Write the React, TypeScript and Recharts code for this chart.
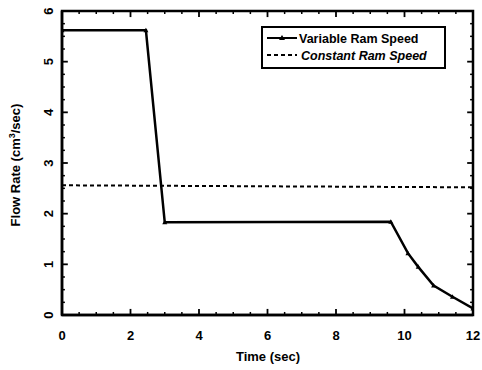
import React from 'react';
import { LineChart, Line, XAxis, YAxis, ReferenceArea, ReferenceLine } from 'recharts';

// values
const VAR_T = [0, 2.45, 3.0, 9.6, 10.1, 10.4, 10.85, 11.4, 12];
const VAR_F = [5.62, 5.62, 1.83, 1.84, 1.22, 0.95, 0.58, 0.36, 0.13];
const CONST_T = [0, 12];
const CONST_F = [2.56, 2.52];

const X_LABELS = [0, 2, 4, 6, 8, 10, 12];
const Y_LABELS = [0, 1, 2, 3, 4, 5, 6];
const X_MINOR = [0.5, 1, 1.5, 2.5, 3, 3.5, 4.5, 5, 5.5, 6.5, 7, 7.5, 8.5, 9, 9.5, 10.5, 11, 11.5];
const Y_MINOR = [0.25, 0.5, 0.75, 1.25, 1.5, 1.75, 2.25, 2.5, 2.75, 3.25, 3.5, 3.75, 4.25, 4.5, 4.75, 5.25, 5.5, 5.75];

const variableData = VAR_T.map((t, i) => ({ t, f: VAR_F[i] }));
const constantData = CONST_T.map((t, i) => ({ t, f: CONST_F[i] }));

const FONT = 'Liberation Sans, Arial, sans-serif';
// inward tick lengths, in axis units (about 6px major / 3px minor)
const XT = 0.17;
const YT = 0.12;

const tickSegments = () => {
  const out: any[] = [];
  const add = (key: string, seg: any, w: number) =>
    out.push(<ReferenceLine key={key} segment={seg} stroke="#000" strokeWidth={w} ifOverflow="visible" />);
  X_LABELS.forEach(v => {
    add(`xb${v}`, [{ x: v, y: 0 }, { x: v, y: YT }], 1.8);
    add(`xt${v}`, [{ x: v, y: 6 }, { x: v, y: 6 - YT }], 1.8);
  });
  X_MINOR.forEach(v => {
    add(`xbm${v}`, [{ x: v, y: 0 }, { x: v, y: YT / 2 }], 1.5);
    add(`xtm${v}`, [{ x: v, y: 6 }, { x: v, y: 6 - YT / 2 }], 1.5);
  });
  Y_LABELS.forEach(v => {
    add(`yl${v}`, [{ x: 0, y: v }, { x: XT, y: v }], 1.8);
    add(`yr${v}`, [{ x: 12, y: v }, { x: 12 - XT, y: v }], 1.8);
  });
  Y_MINOR.forEach(v => {
    add(`ylm${v}`, [{ x: 0, y: v }, { x: XT / 2, y: v }], 1.5);
    add(`yrm${v}`, [{ x: 12, y: v }, { x: 12 - XT / 2, y: v }], 1.5);
  });
  return out;
};

const renderTriangle = (props: any) => {
  const { cx, cy, index } = props;
  return <polygon key={`d-${index}`} points={`${cx},${cy - 2.5} ${cx + 2.5},${cy + 2} ${cx - 2.5},${cy + 2}`} fill="#000" />;
};

export default function App() {
  return (
    <div style={{ position: 'absolute', left: 0, top: 0, width: 482, height: 370 }}>
      <LineChart width={482} height={370} margin={{ top: 11, right: 9, bottom: 0, left: 0 }}>
        <XAxis
          type="number"
          dataKey="t"
          domain={[0, 12]}
          ticks={X_LABELS}
          interval={0}
          tickLine={false}
          tickMargin={10}
          tick={{ fill: '#000', fontFamily: FONT, fontWeight: 'bold', fontSize: 13 }}
          axisLine={{ stroke: '#000', strokeWidth: 2.5 }}
          height={55}
          allowDataOverflow
        />
        <YAxis
          type="number"
          domain={[0, 6]}
          ticks={Y_LABELS}
          interval={0}
          tickLine={false}
          tickMargin={8}
          tick={{ angle: -90, textAnchor: 'middle', verticalAnchor: 'end', fill: '#000', fontFamily: FONT, fontWeight: 'bold', fontSize: 13 }}
          axisLine={{ stroke: '#000', strokeWidth: 2.5 }}
          width={62}
          allowDataOverflow
        />
        <ReferenceArea x1={0} x2={12} y1={0} y2={6} fill="none" fillOpacity={0} stroke="#000" strokeWidth={2.5} ifOverflow="visible" />
        {tickSegments()}
        <Line
          data={constantData}
          dataKey="f"
          type="linear"
          stroke="#000"
          strokeWidth={2}
          strokeDasharray="4 3"
          dot={false}
          isAnimationActive={false}
        />
        <Line
          data={variableData}
          dataKey="f"
          type="linear"
          stroke="#000"
          strokeWidth={2.5}
          dot={renderTriangle}
          isAnimationActive={false}
        />
        {/* legend box */}
        <g>
          <rect x={262} y={27} width={183} height={41} fill="#fff" stroke="#000" strokeWidth={2} />
          <line x1={267} y1={38} x2={297} y2={38} stroke="#000" strokeWidth={2} />
          <polygon points="282,35 285,40 279,40" fill="#000" />
          <text x={299} y={43} fontFamily={FONT} fontWeight="bold" fontSize={12.5} fill="#000">
            Variable Ram Speed
          </text>
          <line x1={267} y1={55} x2={297} y2={55} stroke="#000" strokeWidth={2} strokeDasharray="4 3" />
          <text x={301} y={60} fontFamily={FONT} fontWeight="bold" fontStyle="italic" fontSize={12.5} fill="#000">
            Constant Ram Speed
          </text>
        </g>
        <text x={268} y={361} textAnchor="middle" fontFamily={FONT} fontWeight="bold" fontSize={13} fill="#000">
          Time (sec)
        </text>
        <g transform="translate(20,165) rotate(-90)">
          <text x={0} y={0} textAnchor="middle" fontFamily={FONT} fontWeight="bold" fontSize={13} fill="#000">
            Flow Rate (cm<tspan dy={-5} fontSize={9}>3</tspan><tspan dy={5}>/sec)</tspan>
          </text>
        </g>
      </LineChart>
    </div>
  );
}
